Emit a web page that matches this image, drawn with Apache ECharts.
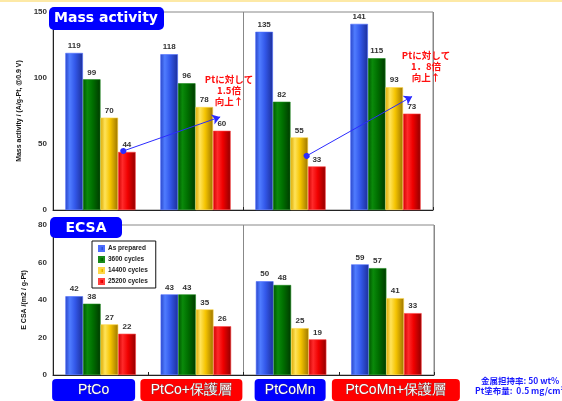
<!DOCTYPE html>
<html>
<head>
<meta charset="utf-8">
<script src="https://cdn.jsdelivr.net/npm/echarts@6/dist/echarts.min.js"></script>
<style>
  html, body { margin: 0; padding: 0; background: #fff; }
  #chart { width: 562px; height: 401px; }
</style>
</head>
<body>
<div id="chart"></div>
<script>
// Catalysts compared in both panels
const categories = ['PtCo', 'PtCo+保護層', 'PtCoMn', 'PtCoMn+保護層'];
const cycleNames = ['As prepared', '3600 cycles', '14400 cycles', '25200 cycles'];

// Mass activity (A/g-Pt @0.9 V) per cycle stage
const maAsPrepared = [119, 118, 135, 141];
const ma3600 = [99, 96, 82, 115];
const ma14400 = [70, 78, 55, 93];
const ma25200 = [44, 60, 33, 73];

// ECSA (m2/g-Pt) per cycle stage
const ecsaAsPrepared = [42, 43, 50, 59];
const ecsa3600 = [38, 43, 48, 57];
const ecsa14400 = [27, 35, 25, 41];
const ecsa25200 = [22, 26, 19, 33];

const maTicks = [0, 50, 100, 150];
const ecsaTicks = [0, 20, 40, 60, 80];

const FONT = '"Liberation Sans", Arial, sans-serif';

// cylinder-like horizontal shading for each bar colour
function shade(edge, light, mid, dark) {
  return new echarts.graphic.LinearGradient(0, 0, 1, 0, [
    { offset: 0, color: edge },
    { offset: 0.25, color: light },
    { offset: 0.55, color: mid },
    { offset: 1, color: dark }
  ]);
}
const fills = [
  shade('#2a45c8', '#4f7cff', '#3358ea', '#1c2f9a'),
  shade('#005500', '#0a8a0a', '#006f00', '#003a00'),
  shade('#d9a800', '#ffe35a', '#f5c400', '#9c7400'),
  shade('#d00000', '#ff2a2a', '#f00000', '#900000')
];
const borders = ['#4d6dff', '#1a8a1a', '#ffd84a', '#ff4040'];

const maSets = [maAsPrepared, ma3600, ma14400, ma25200];
const ecsaSets = [ecsaAsPrepared, ecsa3600, ecsa14400, ecsa25200];

function barSeries(name, data, k, axisIdx) {
  return {
    name: name,
    type: 'bar',
    xAxisIndex: axisIdx,
    yAxisIndex: axisIdx,
    data: data,
    barGap: '0%',
    barCategoryGap: '26%',
    itemStyle: { color: fills[k], borderColor: borders[k], borderWidth: 0.6 },
    label: {
      show: true, position: 'top', distance: 3,
      fontSize: 8, fontWeight: 'bold', color: '#333', fontFamily: FONT
    }
  };
}

const series = [];
cycleNames.forEach((n, k) => series.push(barSeries(n, maSets[k], k, 0)));
cycleNames.forEach((n, k) => series.push(barSeries(n, ecsaSets[k], k, 1)));

// improvement arrows on the mass activity panel (x in category units)
series.push({
  type: 'lines',
  coordinateSystem: 'cartesian2d',
  xAxisIndex: 2,
  yAxisIndex: 0,
  symbol: ['circle', 'arrow'],
  symbolSize: [6, 8],
  lineStyle: { color: '#2b2bff', width: 1, opacity: 1 },
  data: [
    { coords: [[0.74, ma25200[0] + 0.7], [1.76, 70.5]] },
    { coords: [[2.67, 41], [3.78, 86]] }
  ],
  z: 5
});

// coloured name plates under the lower panel; shift moves a plate off its category centre
const plates = [
  { style: 'b0', bg: '#0000ff', width: 83, shift: -7 },
  { style: 'r1', bg: '#ff0000', width: 102, shift: -4.5 },
  { style: 'b2', bg: '#0000ff', width: 71, shift: -1 },
  { style: 'r3', bg: '#ff0000', width: 128, shift: 9.5 }
];
const rich = {};
plates.forEach((p, i) => {
  rich[p.style] = {
    color: '#fff', fontSize: 14, fontFamily: FONT, backgroundColor: p.bg, width: p.width,
    height: 22, lineHeight: 22, borderRadius: 4, align: 'center',
    textBorderColor: '#555', textBorderWidth: 0.5
  };
  rich['sp' + i] = { width: Math.abs(p.shift) * 2, height: 22 };
});
function plateLabel(v, i) {
  const p = plates[i];
  const box = '{' + p.style + '|' + v + '}';
  const sp = '{sp' + i + '|}';
  return p.shift < 0 ? box + sp : sp + box;
}

const chart = echarts.init(document.getElementById('chart'), null, { renderer: 'canvas' });

function catAxis(gridIndex, labels) {
  return {
    type: 'category',
    gridIndex: gridIndex,
    data: categories,
    axisLine: { lineStyle: { color: '#222', width: 1 } },
    axisTick: { show: true, inside: true, length: 3, lineStyle: { color: '#222' } },
    splitLine: { show: false },
    axisLabel: labels
  };
}

// value axis spanning the four categories; its split line at 2 divides PtCo and PtCoMn families
function dividerAxis(gridIndex) {
  return {
    type: 'value', gridIndex: gridIndex, min: 0, max: 4, interval: 2,
    axisLine: { show: false }, axisTick: { show: false }, axisLabel: { show: false },
    splitLine: { show: true, lineStyle: { color: '#888', width: 1 } }
  };
}

function valueAxis(gridIndex, ticks, step, name, gap) {
  return {
    type: 'value',
    gridIndex: gridIndex,
    min: ticks[0], max: ticks[ticks.length - 1], interval: step,
    axisLine: { show: true, lineStyle: { color: '#222' } },
    axisTick: { show: false },
    splitLine: { show: false },
    axisLabel: { fontSize: 8, fontWeight: 'bold', color: '#333', fontFamily: FONT, margin: 6 },
    name: name,
    nameLocation: 'middle',
    nameRotate: 90,
    nameGap: gap,
    nameTextStyle: { fontSize: 7, fontWeight: 'bold', color: '#111', fontFamily: FONT }
  };
}

chart.setOption({
  backgroundColor: '#fff',
  animation: false,
  textStyle: { fontFamily: FONT },
  grid: [
    { left: 53, top: 12, width: 380, height: 198, show: true, borderColor: '#888', borderWidth: 1 },
    { left: 53, top: 225, width: 381, height: 150, show: true, borderColor: '#888', borderWidth: 1 }
  ],
  xAxis: [
    catAxis(0, { show: false }),
    catAxis(1, {
      show: true, margin: 4, interval: 0, hideOverlap: false,
      formatter: plateLabel, rich: rich
    }),
    dividerAxis(0),
    dividerAxis(1)
  ],
  yAxis: [
    valueAxis(0, maTicks, 50, 'Mass activity / (A/g-Pt, @0.9 V)', 18),
    valueAxis(1, ecsaTicks, 20, 'E CSA /(m2 / g-Pt)', 15)
  ],
  legend: {
    data: cycleNames,
    orient: 'vertical',
    left: 92, top: 241,
    itemWidth: 5, itemHeight: 5, itemGap: 4,
    padding: [4, 8, 3, 6],
    icon: 'rect',
    backgroundColor: '#fff',
    borderColor: '#111', borderWidth: 1,
    textStyle: { fontSize: 6.5, fontWeight: 'bold', color: '#222', fontFamily: FONT, padding: [0, 0, 0, -1] }
  },
  graphic: [
    { type: 'rect', left: 0, top: 0, shape: { width: 562, height: 2 }, style: { fill: '#fde9a6' } },
    {
      type: 'rect', left: 49, top: 7, z: 10,
      shape: { width: 115, height: 23, r: 5 }, style: { fill: '#0000ff' }
    },
    {
      type: 'text', x: 106, y: 18.5, z: 11,
      style: {
        text: 'Mass activity', fill: '#fff', align: 'center', verticalAlign: 'middle',
        font: 'bold 14px "DejaVu Sans", sans-serif'
      }
    },
    {
      type: 'rect', left: 50, top: 217, z: 10,
      shape: { width: 72, height: 21, r: 5 }, style: { fill: '#0000ff' }
    },
    {
      type: 'text', x: 86, y: 228, z: 11,
      style: {
        text: 'ECSA', fill: '#fff', align: 'center', verticalAlign: 'middle',
        font: 'bold 14px "DejaVu Sans", sans-serif'
      }
    },
    {
      type: 'text', x: 229, y: 74, z: 11,
      style: {
        text: 'Ptに対して\n1.5倍\n向上↑', fill: '#ff1010', align: 'center', verticalAlign: 'top',
        font: 'bold 9.5px "Noto Sans CJK JP", sans-serif', lineHeight: 11
      }
    },
    {
      type: 'text', x: 426, y: 50, z: 11,
      style: {
        text: 'Ptに対して\n1．8倍\n向上↑', fill: '#ff1010', align: 'center', verticalAlign: 'top',
        font: 'bold 9.5px "Noto Sans CJK JP", sans-serif', lineHeight: 11
      }
    },
    {
      type: 'text', left: 481, top: 377, z: 11,
      style: { text: '金属担持率: 50 wt%', fill: '#1a1aff', font: 'bold 8.5px "Noto Sans CJK JP", sans-serif' }
    },
    {
      type: 'text', left: 475, top: 387, z: 11,
      style: { text: 'Pt塗布量:  0.5 mg/cm²', fill: '#1a1aff', font: 'bold 8.5px "Noto Sans CJK JP", sans-serif' }
    }
  ],
  series: series
});
</script>
</body>
</html>
